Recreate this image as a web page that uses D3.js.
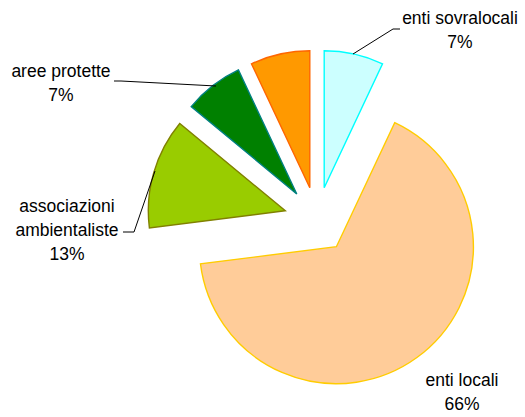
<!DOCTYPE html>
<html>
<head>
<meta charset="utf-8">
<script src="https://cdn.jsdelivr.net/npm/d3@7"></script>
<style>
  html, body { margin: 0; padding: 0; background: #fff; }
  svg { display: block; }
  text { font-family: "Liberation Sans", Arial, sans-serif; fill: #000; }
</style>
</head>
<body>
<script>
// Slices, clockwise from 12 o'clock
const categories = ["enti sovralocali", "enti locali", "associazioni ambientaliste", "aree protette", ""];
const shares = [7, 66, 13, 7, 7];
const fills = ["#CCFFFF", "#FFCC99", "#99CC00", "#008000", "#FF9900"];
const strokes = ["#00FFFF", "#FFCC00", "#808000", "#008080", "#FF6600"];

const W = 525, H = 417;
const cx = 317, cy = 220, radius = 137, explode = 33;

// label blocks: centre x, first baseline, text lines, leader polyline
const labelLayout = [
  { x: 460, y: 24, lines: ["enti sovralocali"], leader: [[353, 54], [393, 29], [400, 29]] },
  { x: 462, y: 386, lines: ["enti locali"], leader: null },
  { x: 67, y: 212, lines: ["associazioni", "ambientaliste"], leader: [[123, 232], [134, 232], [155, 171]] },
  { x: 61, y: 77, lines: ["aree protette"], leader: [[114, 81], [121, 81], [216, 86]] },
  null
];
const lineStep = 24;

const svg = d3.select("body").append("svg")
  .attr("width", W).attr("height", H);

const pie = d3.pie().sort(null).value(d => d).startAngle(0).endAngle(2 * Math.PI);
const arcs = pie(shares);
const arc = d3.arc().innerRadius(0).outerRadius(radius);

const g = svg.append("g").attr("transform", `translate(${cx},${cy})`);

g.selectAll("path.slice")
  .data(arcs)
  .join("path")
  .attr("class", "slice")
  .attr("transform", d => {
    const mid = (d.startAngle + d.endAngle) / 2;
    return `translate(${explode * Math.sin(mid)},${-explode * Math.cos(mid)})`;
  })
  .attr("d", arc)
  .attr("fill", (d, i) => fills[i])
  .attr("stroke", (d, i) => strokes[i])
  .attr("stroke-width", 1.4)
  .attr("stroke-linejoin", "miter");

const line = d3.line();
labelLayout.forEach((lab, i) => {
  if (!lab) return;
  if (lab.leader) {
    svg.append("path")
      .attr("d", line(lab.leader))
      .attr("fill", "none")
      .attr("stroke", "#000")
      .attr("stroke-width", 1);
  }
  const lines = lab.lines.concat([shares[i] + "%"]);
  const t = svg.append("text")
    .attr("text-anchor", "middle")
    .attr("font-size", 17.5);
  lines.forEach((s, k) => {
    t.append("tspan").attr("x", lab.x).attr("y", lab.y + k * lineStep).text(s);
  });
});
</script>
</body>
</html>
